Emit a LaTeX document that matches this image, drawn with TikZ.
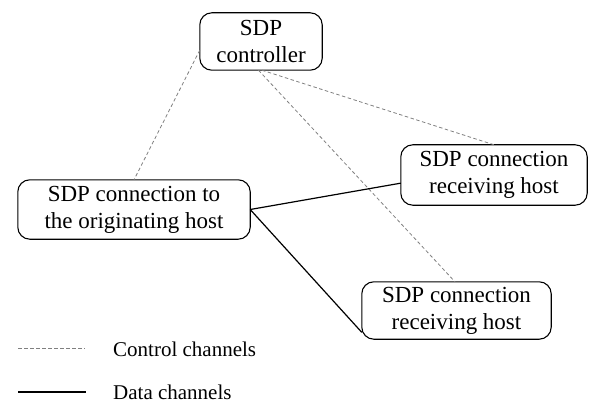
\documentclass[tikz,border=0pt]{standalone}
\usepackage{fontspec}
\setmainfont{Liberation Serif}
\begin{document}
\begin{tikzpicture}[x=1pt,y=-1pt,
  box/.style={align=center,font=\fontsize{23}{27}\selectfont,inner sep=0pt},
  frame/.style={draw,line width=1.1pt,rounded corners=12pt},
  ctrl/.style={draw=gray,line width=0.8pt,dash pattern=on 3.5pt off 2.5pt},
  data/.style={draw,line width=1.2pt},
  legend/.style={font=\fontsize{21}{24}\selectfont,anchor=west,inner sep=0pt}]
\useasboundingbox (0,0) rectangle (590,404);
\node[box,minimum width=122pt,minimum height=57pt] (c) at (261,41.5) {SDP\\controller};
\node[box,minimum width=232pt,minimum height=59pt] (o) at (134,209.5) {SDP connection to\\the originating host};
\node[box,minimum width=186pt,minimum height=60pt] (r1) at (494,175) {SDP connection\\receiving host};
\node[box,minimum width=189pt,minimum height=57pt] (r2) at (456.5,310.5) {SDP connection\\receiving host};
\node[legend] (t1) at (113,349) {Control channels};
\node[legend] (t2) at (113,392) {Data channels};
\draw[frame] (c.south west) rectangle (c.north east);
\draw[frame] (o.south west) rectangle (o.north east);
\draw[frame] (r1.south west) rectangle (r1.north east);
\draw[frame] (r2.south west) rectangle (r2.north east);
\draw[ctrl] (c.188) -- (o.north);
\draw[ctrl] (c.272) -- (r1.north);
\draw[ctrl] (c.265) -- (r2.93);
\draw[data] (o.east) -- (r1.185);
\draw[data] (o.east) -- (r2.193);
\coordinate (l1a) at (18,348);
\coordinate (l1b) at (85,348);
\coordinate (l2a) at (18,392);
\coordinate (l2b) at (86,392);
\draw[ctrl] (l1a) -- (l1b);
\draw[data] (l2a) -- (l2b);
\end{tikzpicture}
\end{document}
